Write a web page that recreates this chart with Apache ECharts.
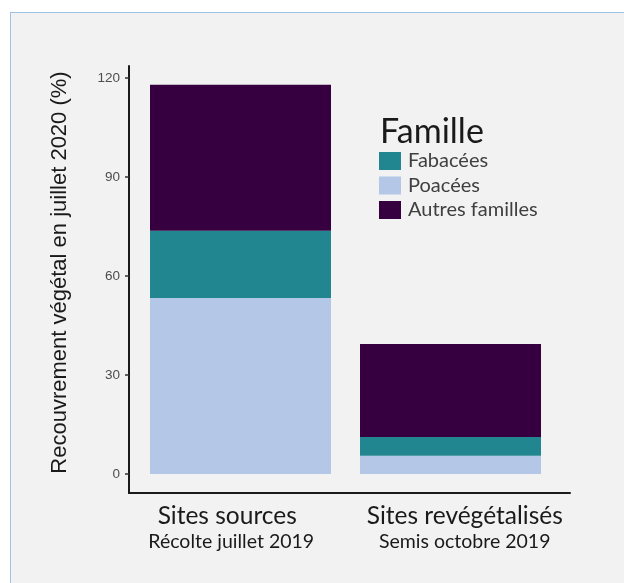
<!DOCTYPE html>
<html>
<head>
<meta charset="utf-8">
<script src="https://cdn.jsdelivr.net/npm/echarts@6/dist/echarts.min.js"></script>
<style>
  html, body { margin: 0; padding: 0; background: #ffffff; }
  #panel { position: absolute; left: 10px; top: 12px; right: 0; bottom: 0;
           background: #f2f2f2; border-left: 1px solid #9dc3e6; border-top: 1px solid #9dc3e6; }
  #chart { position: absolute; left: 0; top: 0; width: 624px; height: 583px; }
</style>
</head>
<body>
<div id="panel"></div>
<div id="chart"></div>
<script>
const categories = ['Sites sources', 'Sites revégétalisés'];
const subtitles = ['Récolte juillet 2019', 'Semis octobre 2019'];
const poacees = [53.3, 5.5];
const fabacees = [20.4, 5.7];
const autres = [44.2, 28.2];
const yTicks = [0, 30, 60, 90, 120];
const seriesNames = ['Poacées', 'Fabacées', 'Autres familles'];
const legendOrder = ['Fabacées', 'Poacées', 'Autres familles'];
const legendTitle = 'Famille';
const yTitle = 'Recouvrement végétal en juillet 2020 (%)';

const colors = { 'Poacées': '#b4c7e7', 'Fabacées': '#218690', 'Autres familles': '#360040' };
const yMin = -5.76, yMax = 123.6;
const humanist = 'Lato, "Open Sans", sans-serif';
const arial = '"Liberation Sans", Arial, sans-serif';

const chart = echarts.init(document.getElementById('chart'), null, { renderer: 'canvas' });

const valuesByName = { 'Poacées': poacees, 'Fabacées': fabacees, 'Autres familles': autres };

chart.setOption({
  backgroundColor: 'transparent',
  animation: false,
  title: {
    text: legendTitle, left: 380, top: 115, padding: 0,
    textStyle: { fontFamily: humanist, fontSize: 34, fontWeight: 'normal', color: '#1a1a1a' }
  },
  legend: {
    data: legendOrder, orient: 'vertical', left: 379, top: 151, padding: 0,
    icon: 'rect', itemWidth: 22, itemHeight: 18, itemGap: 4.5,
    textStyle: { fontFamily: humanist, fontSize: 20, color: '#404040', lineHeight: 18, padding: [0, 0, 0, 2] },
    selectedMode: false
  },
  grid: [
    { left: 135.5, right: 68.5, top: 66, bottom: 90 },
    { left: 129, right: 54, top: 66, bottom: 90 }
  ],
  xAxis: [
    { type: 'category', gridIndex: 0, data: categories, show: false },
    {
      type: 'category', gridIndex: 1, data: categories,
      axisLine: { onZero: false, lineStyle: { color: '#1a1a1a', width: 2 } },
      axisTick: { show: false },
      axisLabel: {
        margin: 9,
        formatter: (v, i) => `{a${i}|${v}}\n{b${i}|${subtitles[i]}}`,
        rich: {
          a0: { fontFamily: humanist, fontSize: 24.5, color: '#1a1a1a', lineHeight: 28, padding: [0, 24, 0, 0] },
          b0: { fontFamily: humanist, fontSize: 19.5, color: '#1a1a1a', lineHeight: 24, padding: [0, 16, 0, 0] },
          a1: { fontFamily: humanist, fontSize: 24.5, color: '#1a1a1a', lineHeight: 28, padding: [0, 0, 0, 10] },
          b1: { fontFamily: humanist, fontSize: 19.5, color: '#1a1a1a', lineHeight: 24, padding: [0, 0, 0, 10] }
        }
      }
    }
  ],
  yAxis: [
    { type: 'value', gridIndex: 0, min: yMin, max: yMax, show: false },
    {
      type: 'value', gridIndex: 1, min: yMin, max: yMax,
      name: yTitle, nameLocation: 'middle', nameGap: 58,
      nameTextStyle: { fontFamily: arial, fontSize: 22, color: '#1a1a1a', padding: [0, 0, 0, 14] },
      axisLine: { show: true, lineStyle: { color: '#1a1a1a', width: 2 } },
      axisTick: { show: true, length: 4, customValues: yTicks, lineStyle: { color: '#333', width: 1.5 } },
      axisLabel: { customValues: yTicks, margin: 9, fontFamily: arial, fontSize: 13.5, color: '#4d4d4d' },
      splitLine: { show: false }
    }
  ],
  series: seriesNames.map(name => ({
    name: name, type: 'bar', stack: 'total', xAxisIndex: 0, yAxisIndex: 0,
    barWidth: 181, data: valuesByName[name],
    itemStyle: { color: colors[name] }
  }))
});
</script>
</body>
</html>
